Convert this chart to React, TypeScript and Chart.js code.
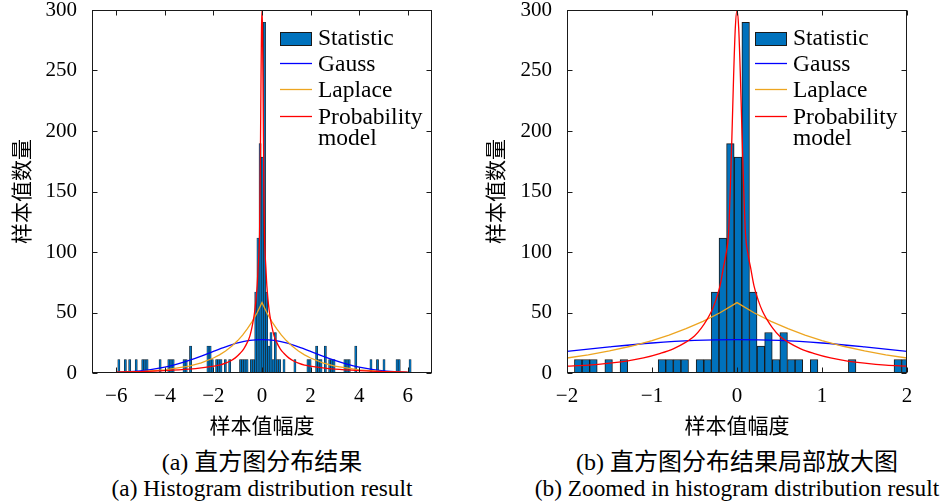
import React, { useEffect, useRef } from 'react';
import { Chart, registerables } from 'chart.js';
Chart.register(...registerables);

const SERIF = "'Liberation Serif', 'Times New Roman', serif";
const CJK = "'Noto Sans CJK SC', 'Noto Sans CJK JP', sans-serif";

// Histogram bins (centres) and sample counts
const binCenters = [
  -5.895, -5.627, -5.448, -5.179, -4.911, -4.821, -4.732, -4.195, -3.837, -3.747,
  -3.658, -3.210, -3.121, -2.942, -2.226, -2.136, -2.047, -1.868, -1.778, -1.689,
  -1.510, -1.331, -0.883, -0.794, -0.704, -0.615, -0.436, -0.346, -0.257, -0.167,
  -0.078, 0.012, 0.102, 0.191, 0.281, 0.370, 0.460, 0.549, 0.639, 0.728,
  0.907, 1.355, 1.892, 1.981, 2.250, 2.339, 2.429, 2.608, 2.787, 2.876,
  2.966, 3.413, 3.503, 3.592, 3.861, 4.487, 4.756, 5.024, 5.561, 5.651, 6.098,
];
const binCounts = [
  11.15, 11.15, 11.15, 11.15, 11.15, 11.15, 11.15, 11.15, 11.15, 11.15,
  11.15, 11.15, 11.15, 22.3, 22.3, 22.3, 11.15, 11.15, 11.15, 11.15,
  11.15, 11.15, 11.15, 11.15, 11.15, 11.15, 11.15, 11.15, 66.9, 111.5,
  189.6, 178.4, 289.9, 66.9, 22.3, 33.45, 11.15, 33.45, 11.15, 11.15,
  11.15, 11.15, 11.15, 11.15, 22.3, 11.15, 11.15, 22.3, 11.15, 11.15,
  11.15, 11.15, 11.15, 11.15, 22.3, 11.15, 11.15, 11.15, 11.15, 11.15, 11.15,
];

// Fitted curves
const gaussX = [-6, -5, -4, -3.5, -3, -2.5, -2, -1.5, -1, -0.5, 0, 0.5, 1, 1.5, 2, 2.5, 3, 3.5, 4, 5, 6];
const gaussY = [0.6, 1.8, 4.9, 7.3, 10.4, 14.0, 17.9, 21.6, 24.8, 26.9, 27.6, 26.9, 24.8, 21.6, 17.9, 14.0, 10.4, 7.3, 4.9, 1.8, 0.6];

const laplaceX = [-6, -5, -4, -3, -2.5, -2, -1.75, -1.5, -1.25, -1, -0.8, -0.6, -0.4, -0.2, 0, 0.2, 0.4, 0.6, 0.8, 1, 1.25, 1.5, 1.75, 2, 2.5, 3, 4, 5, 6];
const laplaceY = [0.56, 1.2, 2.6, 5.7, 8.4, 12.4, 15.0, 18.2, 22.1, 26.8, 31.3, 36.6, 42.7, 49.8, 58.2, 49.8, 42.7, 36.6, 31.3, 26.8, 22.1, 18.2, 15.0, 12.4, 8.4, 5.7, 2.6, 1.2, 0.56];

const modelX = [-6, -5, -4, -3, -2.5, -2, -1.75, -1.5, -1.3, -1.1, -0.9, -0.75, -0.6, -0.5, -0.42, -0.35, -0.3, -0.25, -0.2, -0.16, -0.13, -0.1, -0.08, -0.06, -0.04, -0.02, 0,
  0.02, 0.04, 0.06, 0.08, 0.1, 0.13, 0.16, 0.2, 0.25, 0.3, 0.35, 0.42, 0.5, 0.6, 0.75, 0.9, 1.1, 1.3, 1.5, 1.75, 2, 2.5, 3, 4, 5, 6];
const modelY = [0.7, 1.2, 2.0, 3.2, 4.2, 5.7, 6.5, 8.1, 9.9, 12.5, 16.3, 20, 25.5, 30.5, 37, 44.5, 51, 60, 72, 87, 98, 115, 150, 195, 245, 285, 300,
  285, 245, 195, 150, 115, 98, 87, 72, 60, 51, 44.5, 37, 30.5, 25.5, 20, 16.3, 12.5, 9.9, 8.1, 6.5, 5.7, 4.2, 3.2, 2.0, 1.2, 0.7];

const yTicks = [0, 50, 100, 150, 200, 250, 300];
const leftXTicks = [-6, -4, -2, 0, 2, 4, 6];
const rightXTicks = [-2, -1, 0, 1, 2];
const legendLabels: (string | string[])[] = ['Statistic', 'Gauss', 'Laplace', ['Probability', 'model']];
const yTitle = '样本值数量';
const xTitle = '样本值幅度';

const BAR_FILL = '#0072BD';
const GAUSS = '#0000FF';
const LAPLACE = '#EDA520';
const MODEL = '#FF0000';
const INK = '#1a1a1a';

const fmt = (v: number) => (v < 0 ? '\u2212' + Math.abs(v) : String(v));
const pts = (xs: number[], ys: number[]) => xs.map((x, i) => ({ x, y: ys[i] }));

const frameLegendPlugin = {
  id: 'frameLegend',
  afterDraw(chart: any) {
    const { ctx, chartArea: a, scales } = chart;
    ctx.save();
    ctx.strokeStyle = INK;
    ctx.lineWidth = 1;
    const L = Math.round(a.left) + 0.5, R = Math.round(a.right) - 0.5;
    const T = Math.round(a.top) + 0.5, B = Math.round(a.bottom) - 0.5;
    ctx.strokeRect(L, T, R - L, B - T);
    const tl = 5;
    ctx.beginPath();
    scales.x.ticks.forEach((t: any) => {
      const px = Math.round(scales.x.getPixelForValue(t.value)) + 0.5;
      ctx.moveTo(px, B); ctx.lineTo(px, B - tl);
      ctx.moveTo(px, T); ctx.lineTo(px, T + tl);
    });
    scales.y.ticks.forEach((t: any) => {
      const py = Math.round(scales.y.getPixelForValue(t.value)) + 0.5;
      ctx.moveTo(L, py); ctx.lineTo(L + tl, py);
      ctx.moveTo(R, py); ctx.lineTo(R - tl, py);
    });
    ctx.stroke();

    // legend
    const ds = chart.data.datasets;
    const sx = Math.round(a.right - 152);
    const rows = [29, 55, 81, 108];
    ctx.font = `23.5px ${SERIF}`;
    ctx.textBaseline = 'middle';
    ctx.textAlign = 'left';
    ctx.fillStyle = '#000';
    legendLabels.forEach((lab, i) => {
      const y = Math.round(a.top + rows[i]);
      if (i === 0) {
        ctx.fillStyle = ds[0].backgroundColor;
        ctx.fillRect(sx, y - 7, 32, 14);
        ctx.strokeStyle = INK;
        ctx.lineWidth = 1;
        ctx.strokeRect(sx + 0.5, y - 6.5, 31, 13);
      } else {
        ctx.strokeStyle = ds[i].borderColor;
        ctx.lineWidth = 1.3;
        ctx.beginPath();
        ctx.moveTo(sx, y - 1.5);
        ctx.lineTo(sx + 32, y - 1.5);
        ctx.stroke();
      }
      ctx.fillStyle = '#000';
      const lines = Array.isArray(lab) ? lab : [lab];
      lines.forEach((ln, j) => ctx.fillText(ln, sx + 38, y + j * 21));
    });
    ctx.restore();
  },
};

function makeConfig(xMin: number, xMax: number, xTicks: number[], yAxisWidth: number, yTitlePad: number, barBorder: number): any {
  return {
    type: 'bar',
    data: {
      datasets: [
        {
          type: 'bar', label: 'Statistic', data: pts(binCenters, binCounts),
          backgroundColor: BAR_FILL, borderColor: INK, borderWidth: barBorder,
          barPercentage: 1, categoryPercentage: 1, order: 4, clip: 0,
        },
        {
          type: 'line', label: 'Gauss', data: pts(gaussX, gaussY), borderColor: GAUSS,
          borderWidth: 1.3, pointRadius: 0, fill: false, cubicInterpolationMode: 'monotone', order: 3, clip: 0,
        },
        {
          type: 'line', label: 'Laplace', data: pts(laplaceX, laplaceY), borderColor: LAPLACE,
          borderWidth: 1.3, pointRadius: 0, fill: false, tension: 0, order: 2, clip: 0,
        },
        {
          type: 'line', label: 'Probability model', data: pts(modelX, modelY), borderColor: MODEL,
          borderWidth: 1.3, pointRadius: 0, fill: false, cubicInterpolationMode: 'monotone', order: 1, clip: 0,
        },
      ],
    },
    options: {
      responsive: false,
      animation: false,
      events: [],
      layout: { padding: { top: 10, right: 36, bottom: 0, left: 0 } },
      plugins: { legend: { display: false }, tooltip: { enabled: false } },
      scales: {
        x: {
          type: 'linear', min: xMin, max: xMax, offset: false,
          grid: { display: false, offset: false, drawTicks: true, tickLength: 8 }, border: { display: false },
          afterBuildTicks: (s: any) => { s.ticks = xTicks.map((v) => ({ value: v })); },
          afterFit: (s: any) => { s.height = 67; },
          ticks: { color: '#000', padding: 3, maxRotation: 0, autoSkip: false, font: { family: SERIF, size: 21 }, callback: (v: any) => fmt(Number(v)) },
          title: { display: true, text: xTitle, color: '#000', font: { family: CJK, size: 21 }, padding: { top: 0, bottom: 2 } },
        },
        y: {
          type: 'linear', min: 0, max: 300,
          grid: { display: false, drawTicks: true, tickLength: 15 }, border: { display: false },
          afterBuildTicks: (s: any) => { s.ticks = yTicks.map((v) => ({ value: v })); },
          afterFit: (s: any) => { s.width = yAxisWidth; },
          ticks: { color: '#000', padding: 0, font: { family: SERIF, size: 21, lineHeight: 0.9 }, callback: (v: any) => fmt(Number(v)) },
          title: { display: true, text: yTitle, color: '#000', font: { family: CJK, size: 21 }, padding: { top: yTitlePad, bottom: 0 } },
        },
      },
    },
    plugins: [frameLegendPlugin],
  };
}

export default function App() {
  const ref1 = useRef<HTMLCanvasElement>(null);
  const ref2 = useRef<HTMLCanvasElement>(null);
  useEffect(() => {
    const c1 = new Chart(ref1.current!, makeConfig(-7, 7, leftXTicks, 92, 8, 0.6));
    const c2 = new Chart(ref2.current!, makeConfig(-2, 2, rightXTicks, 99, 14.4, 1));
    return () => { c1.destroy(); c2.destroy(); };
  }, []);
  const cap: React.CSSProperties = {
    position: 'absolute', width: 520, textAlign: 'center', fontFamily: `${SERIF.split(',')[0]}, ${CJK}`,
    fontSize: 24, lineHeight: '26px', color: '#000', whiteSpace: 'nowrap',
  };
  const capEn: React.CSSProperties = { ...cap, fontSize: 23.3 };
  return (
    <div style={{ position: 'absolute', left: 0, top: 0, width: 943, height: 504, overflow: 'hidden', background: '#fff' }}>
      <canvas ref={ref1} width={468} height={440} style={{ position: 'absolute', left: 0, top: 0, width: 468, height: 440 }} />
      <canvas ref={ref2} width={475} height={440} style={{ position: 'absolute', left: 468, top: 0, width: 475, height: 440 }} />
      <div style={{ ...cap, left: 2, top: 449 }}>(a) 直方图分布结果</div>
      <div style={{ ...capEn, left: 2, top: 475 }}>(a) Histogram distribution result</div>
      <div style={{ ...cap, left: 477, top: 449 }}>(b) 直方图分布结果局部放大图</div>
      <div style={{ ...capEn, left: 477, top: 475 }}>(b) Zoomed in histogram distribution result</div>
    </div>
  );
}
